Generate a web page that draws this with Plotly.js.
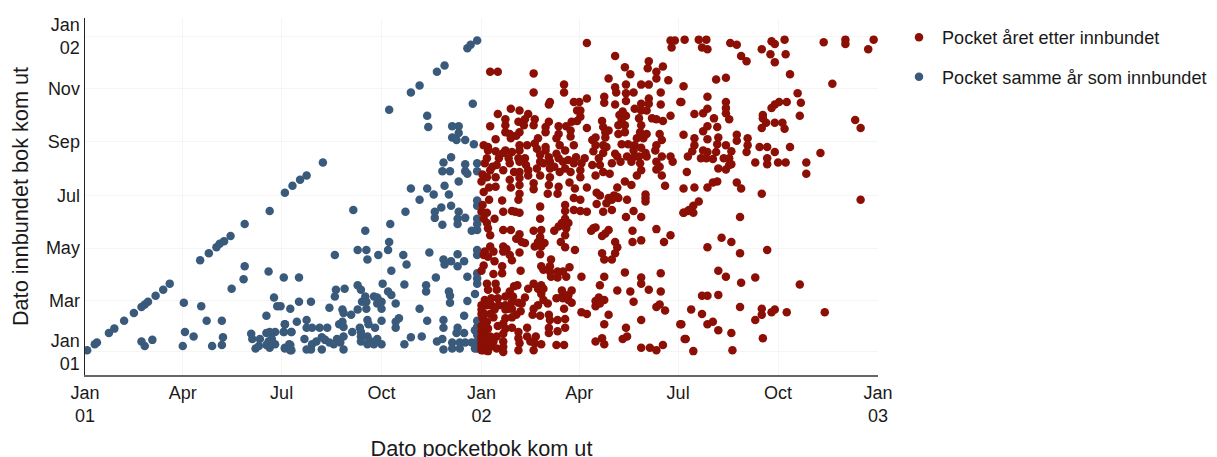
<!DOCTYPE html>
<html><head><meta charset="utf-8">
<script src="https://cdn.plot.ly/plotly-3.0.1.min.js"></script>
<style>html,body{margin:0;padding:0;background:#fff;overflow:hidden}</style>
</head><body><div id="chart" style="width:1217px;height:457px"></div>
<script>
// Values: [days after 1 Jan 2001 for the pocket book, days after 1 Jan 2001 for the hardback]
const sameYearPairs = [[2,2],[9,9],[11,11],[22,22],[27,27],[36,36],[45,45],[52,52],[55,55],[58,58],[65,65],[72,72],[78,79],[106,106],[114,114],[121,121],[124,125],[128,128],[134,134],[147,148],[170,163],[184,184],[191,192],[198,199],[204,204],[219,219],[280,280],[300,300],[308,308],[324,324],[331,331],[352,351],[355,355],[361,360],
[357,287],[315,273],[316,260],[338,261],[344,261],[344,253],[338,248],[342,245],[350,245],[358,240],[337,225],[330,219],[350,217],[361,218],[329,209],[336,209],[350,209],[352,206],[361,209],[344,197],[331,192],[300,189],[315,189],[321,182],[335,182],[308,176],[361,175],[361,169],[337,169],[328,167],[295,162],[322,162],[322,155],[344,162],[343,154],[350,155],[343,148],[329,147],[361,154],[361,148],[356,140],[361,141],[247,164],[281,148],[258,140],[280,127],[251,118],[259,118],[279,118],[230,112],[270,112],[293,112],[260,107],[317,115],[361,118],[361,112],[343,113],[349,105],[330,107],[337,105],[331,101],[343,99],[296,101],[282,94],[323,86],[352,87],[361,91],[361,85],[361,79],[274,79],[294,78],[314,77],[314,70],[239,73],[231,72],[230,64],[251,77],[254,72],[279,70],[282,66],[335,70],[336,65],[336,57],[359,67],[352,59],[286,56],[258,64],[255,58],[259,58],[266,64],[269,63],[273,58],[269,56],[208,58],[225,51],[180,53],[259,50],[273,50],[251,49],[237,49],[238,45],[245,43],[308,50],[349,42],[273,36],[260,37],[261,32],[289,39],[286,35],[286,28],[315,36],[330,37],[330,28],[361,36],[361,29],[184,32],[204,37],[204,28],[209,28],[216,28],[223,28],[234,32],[237,35],[238,29],[183,23],[190,23],[246,23],[253,28],[254,23],[267,28],[343,28],[342,22],[349,22],[359,25],[361,20],[202,15],[218,17],[213,12],[209,9],[221,14],[225,11],[232,15],[238,18],[235,11],[254,18],[254,12],[260,18],[262,13],[269,15],[260,9],[266,9],[273,9],[300,17],[310,18],[294,9],[324,12],[329,15],[330,3],[338,11],[338,4],[345,11],[345,4],[350,11],[356,11],[359,4],[361,12],[361,4],[363,18],[363,10],[204,3],[208,3],[218,3],[229,9],[238,3],[189,2],[188,9],[184,4],
[52,12],[55,7],[62,14],[90,7],[91,57],[92,23],[100,18],[107,53],[112,36],[117,7],[126,36],[127,17],[126,8],[135,73],[146,84],[147,99],[153,21],[154,15],[157,4],[160,7],[161,15],[167,42],[167,22],[169,93],[169,12],[170,23],[170,5],[172,15],[174,63],[175,23],[175,9],[177,53],[183,86],[183,23],[184,32],[184,5],[189,50],[190,2],[190,23],[189,8],[195,35],[197,86],[197,58],[167,8],[172,10]];

const nextYearPairs = [[552,361],[565,361],[572,361],[568,352],[573,350],[594,357],[600,355],[604,342],[609,336],[623,350],[631,344],[632,359],[635,356],[644,361],[645,344],[635,335],[581,315],[590,317],[551,307],[649,321],[688,310],[680,358],[700,361],[700,356],[726,361],[721,350],[573,295],[549,289],[590,289],[590,282],[590,276],[573,281],[569,276],[561,275],[579,270],[593,269],[656,299],[659,288],[646,289],[639,289],[635,286],[632,282],[624,274],[624,270],[658,273],[627,265],[635,265],[642,265],[644,258],[623,259],[709,268],[714,259],[573,261],[582,260],[569,255],[551,251],[600,251],[600,244],[610,247],[610,239],[561,247],[573,246],[583,248],[561,239],[582,240],[590,239],[559,232],[569,233],[573,231],[581,231],[595,232],[609,231],[621,237],[628,237],[649,237],[635,231],[677,230],[555,226],[567,224],[572,224],[578,223],[588,224],[593,224],[595,217],[617,219],[628,224],[628,217],[638,219],[645,219],[664,219],[583,212],[590,211],[593,216],[554,208],[664,206],[578,196],[582,197],[600,196],[604,189],[551,189],[561,190],[573,190],[623,183],
[714,176],[565,174],[560,169],[551,161],[555,163],[560,161],[603,156],[586,132],[595,127],[573,121],[603,114],[628,118],[583,94],[590,87],[604,80],[617,86],[658,78],[568,65],[573,65],[583,66],[603,52],[558,49],[568,44],[623,50],[635,49],[632,46],[623,43],[646,46],[681,46],[549,32],[573,32],[578,35],[617,37],[583,25],[595,22],[624,16],[553,15],[560,1],[596,2],
[462,357],[373,324],[380,324],[413,322],[413,300],[441,309],[441,300],[539,360],[543,360],[540,352],[488,342],[519,336],[518,328],[532,330],[497,329],[502,321],[526,324],[526,316],[482,316],[537,314],[498,309],[488,306],[512,309],[519,309],[489,300],[505,300],[530,300],[462,293],[478,295],[478,288],[498,299],[498,290],[519,293],[519,287],[548,289],[530,286],[428,289],[427,286],[450,289],[455,289],[488,286],[512,287],[506,281],[512,279],[517,279],[392,281],[400,279],[380,275],[453,279],[456,279],[495,278],[408,275],[456,272],[492,274],[498,273],[539,273],[522,270],[526,269],[532,267],[387,269],[399,266],[405,269],[414,269],[427,266],[453,267],[448,266],[476,267],[510,270],[494,268],[373,261],[387,262],[404,262],[413,262],[424,260],[436,261],[443,261],[462,259],[477,260],[491,262],[497,262],[512,262],[387,254],[391,252],[400,254],[424,254],[436,252],[447,256],[479,254],[491,252],[497,254],[511,254],[517,252],[529,252],[392,247],[378,246],[397,250],[417,247],[434,247],[447,249],[479,248],[467,245],[508,247],[514,247],[531,245],[367,239],[371,237],[400,239],[407,239],[414,241],[424,237],[437,239],[450,239],[470,239],[477,239],[480,237],[506,239],[526,239],[371,233],[387,233],[393,231],[400,233],[416,235],[424,233],[442,233],[477,230],[505,233],[525,233],[488,229],[516,230],[370,224],[381,224],[390,224],[405,224],[399,224],[419,228],[427,225],[436,224],[445,222],[460,224],[490,226],[499,226],[506,226],[517,226],[539,226],[531,226],[368,218],[379,216],[391,218],[400,220],[419,220],[428,220],[440,220],[450,218],[457,218],[467,216],[474,216],[485,218],[493,220],[503,220],[511,218],[526,220],[541,220],[373,210],[385,210],[400,208],[408,210],[416,212],[428,212],[437,208],[447,208],[456,210],[477,208],[470,204],[483,206],[512,210],[529,214],[370,202],[378,202],[391,199],[400,201],[408,204],[419,204],[428,202],[456,202],[508,204],[526,211],[531,204],[365,197],[378,191],[400,193],[413,195],[427,193],[436,191],[446,196],[451,189],[462,190],[497,197],[503,193],[534,192],[367,185],[413,188],[426,183],[435,183],[471,184],[474,181],[490,190],[516,182],[400,183],[450,178],[487,181],[491,178],[482,178],[516,178],[456,176],
[384,175],[399,176],[396,162],[385,162],[393,163],[400,161],[419,168],[442,170],[442,163],[450,164],[456,163],[462,162],[471,171],[477,162],[485,164],[480,172],[485,176],[490,179],[499,176],[505,163],[498,156],[512,156],[516,174],[551,161],[556,164],[365,162],[370,161],[367,154],[377,154],[370,149],[371,143],[373,135],[385,141],[392,141],[419,154],[442,154],[439,149],[445,149],[436,145],[432,140],[443,143],[442,135],[413,140],[420,141],[419,133],[400,136],[397,131],[405,126],[402,127],[417,127],[423,126],[414,122],[420,122],[419,113],[438,127],[442,121],[451,118],[468,143],[470,144],[466,140],[482,141],[479,137],[476,134],[504,140],[526,142],[539,135],[504,127],[512,129],[533,127],[488,127],[490,121],[488,114],[485,107],[476,114],[478,107],[373,122],[368,116],[376,116],[367,112],[371,110],[377,105],[385,122],[388,119],[385,116],[391,112],[393,106],[400,115],[429,107],[367,100],[365,94],[384,99],[384,91],[401,94],[420,99],[422,95],[428,99],[428,93],[429,87],[435,93],[435,86],[440,93],[443,87],[446,98],[457,87],[478,87],[497,92],[512,86],[512,79],[530,91],[474,77],[370,79],[378,79],[371,72],[379,72],[398,77],[413,79],[420,77],[408,73],[417,73],[422,73],[420,67],[439,71],[448,71],[439,64],[445,66],[448,57],[440,62],[490,71],[502,70],[519,72],[530,70],[505,58],[473,63],[470,59],[478,60],[470,53],[474,56],[368,60],[374,62],[380,62],[391,70],[394,64],[405,63],[387,64],[365,54],[370,54],[374,54],[381,54],[387,54],[393,58],[399,57],[417,54],[426,56],[365,49],[377,49],[387,49],[393,50],[413,50],[441,50],[457,46],[462,44],[482,43],[526,52],[529,55],[534,48],[401,47],[397,43],[393,40],[387,39],[412,43],[419,42],[427,43],[428,37],[435,37],[442,38],[366,39],[370,35],[478,32],[512,37],[548,32],[498,28],[371,27],[385,33],[387,27],[393,28],[399,23],[407,28],[427,28],[442,28],[427,22],[435,24],[552,15],[499,18],[495,15],[476,16],[470,12],[478,9],[512,5],[520,5],[526,2],[532,8],[368,21],[373,18],[379,18],[385,21],[370,12],[376,12],[385,12],[399,16],[407,18],[415,18],[410,12],[414,10],[420,9],[434,8],[441,8],[400,10],[413,2],[367,6],[373,6],[379,4],[385,6],[367,2],[371,1],[385,0],[399,2],
[365,2],[365,6],[365,10],[365,14],[365,18],[365,24],[365,30],[365,44],[366,170],[366,205],[372,176],[372,190],[375,214],[385,230],[378,232],[395,208],[392,190],[406,216],[422,218],[432,214],[442,212],[452,225],[434,229],[468,232],[473,224],[470,248],[482,256],[494,240],[500,240],[512,236],[510,226],[376,40],[380,30],[373,44],[368,44],[376,90],[390,50],[395,76],[402,56],[422,60],[434,62],[445,60]];

const xTickDays = [0,90,181,273,365,455,546,638,730];
const xTickLabels = ['Jan<br>01','Apr','Jul','Oct','Jan<br>02','Apr','Jul','Oct','Jan<br>03'];
const yTickDays = [0,59,120,181,243,304,365];
const yTickLabels = ['Jan<br>01','Mar','May','Jul','Sep','Nov','Jan<br>02'];
const seriesNames = ['Pocket samme år som innbundet','Pocket året etter innbundet'];
const seriesColors = ['#3A5A7C','#8B0F04'];
const legendRanks = [2,1];

const toDate = d => new Date(Date.UTC(2001,0,1) + d*86400000).toISOString().slice(0,19).replace('T',' ');
const textColor = '#1a1a1a';
const font = 'Arial, "Liberation Sans", sans-serif';

function series(pairs, i){
  return {type:'scatter',mode:'markers',name:seriesNames[i],legendgroup:'g'+i,legendrank:legendRanks[i],
    x:pairs.map(p=>toDate(p[0])),y:pairs.map(p=>toDate(p[1])),
    marker:{color:seriesColors[i],size:8.5,line:{width:0}},hoverinfo:'x+y'};
}
const axisBase = {type:'date',tickmode:'array',ticks:'',showgrid:true,gridcolor:'#f5f5f5',gridwidth:1,zeroline:false,
  showline:true,tickfont:{family:font,size:18,color:textColor},automargin:false};
Plotly.newPlot('chart',[series(sameYearPairs,0),series(nextYearPairs,1)],{
  width:1217,height:457,autosize:false,
  margin:{l:85,r:339,t:18,b:82,pad:0,autoexpand:false},
  paper_bgcolor:'#fff',plot_bgcolor:'#fff',
  font:{family:font,color:textColor},
  xaxis:Object.assign({},axisBase,{range:[toDate(0),toDate(730)],tickvals:xTickDays.map(toDate),ticktext:xTickLabels,
    linecolor:'#666',linewidth:2,
    title:{text:'Dato pocketbok kom ut',font:{family:font,size:21.7,color:textColor}}}),
  yaxis:Object.assign({},axisBase,{range:[toDate(-26.6),toDate(386)],tickvals:yTickDays.map(toDate),ticktext:yTickLabels,
    linecolor:'#222',linewidth:1.5,
    title:{text:'Dato innbundet bok kom ut',font:{family:font,size:21.7,color:textColor},standoff:11}}),
  legend:{x:1.0227,y:0.997,xanchor:'left',yanchor:'top',traceorder:'grouped',tracegroupgap:13,itemwidth:36,
    font:{family:font,size:18.1,color:textColor},bgcolor:'rgba(0,0,0,0)',itemsizing:'trace'},
  showlegend:true
},{displayModeBar:false,staticPlot:true}).then(() => {
  // Nudge the horizontal axis title down to sit where the reference has it.
  const t = document.querySelector('.xtitle');
  if (t) t.setAttribute('transform', (t.getAttribute('transform') || '') + ' translate(0,5)');
});
</script></body></html>
